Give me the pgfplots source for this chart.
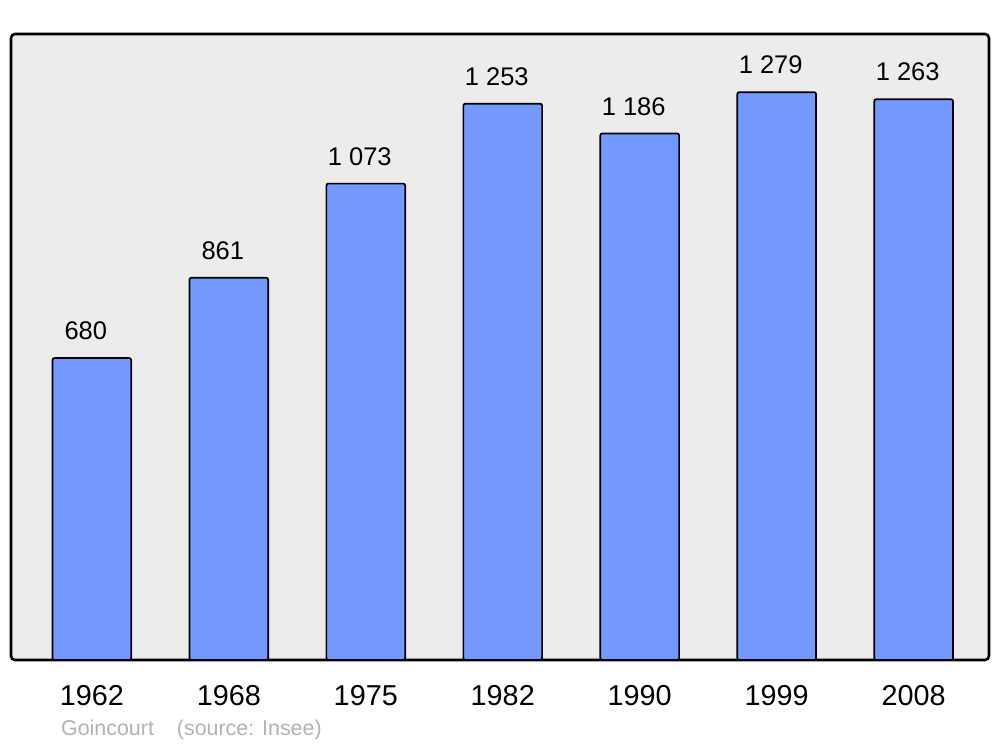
\documentclass[border=0pt]{standalone}
\usepackage{fontspec}
\setmainfont{Liberation Sans}
\usepackage{pgfplots}
\pgfplotsset{compat=1.18}

\definecolor{barblue}{HTML}{7399FF}
\definecolor{panel}{HTML}{ECECEC}
\definecolor{srcgray}{HTML}{B3B3B3}

\begin{document}
\begin{tikzpicture}[x=1pt,y=1pt]
  % page = 1000 x 747
  \path[fill=white] (0,0) rectangle (1000,747);
  \begin{axis}[
      at={(11pt,87pt)}, anchor=south west,
      scale only axis, width=978pt, height=626pt,
      xmin=-0.59, xmax=6.55, ymin=0, ymax=1410,
      axis background/.style={fill=panel},
      axis line style={line width=2.6pt, rounded corners=4pt},
      ytick=\empty,
      xtick=data,
      xticklabels={1962,1968,1975,1982,1990,1999,2008},
      xtick style={draw=none},
      xticklabel style={font=\fontsize{28.8}{32}\selectfont, yshift=-18pt},
      ybar, bar width=0.575, bar shift=0pt,
      /pgf/number format/assume math mode=true,
      /pgf/number format/1000 sep={\ },
      nodes near coords,
      every node near coord/.append style={font=\fontsize{25.5}{28}\selectfont,
        xshift=-6pt, yshift=14pt, black},
    ]
    \addplot[fill=barblue, draw=black, line width=1.7pt, rounded corners=2pt]
      coordinates {(0,680) (1,861) (2,1073) (3,1253) (4,1186) (5,1279) (6,1263)};
  \end{axis}
  \node[anchor=west, text=srcgray, font=\fontsize{21.4}{24}\selectfont, inner sep=0pt]
    at (61,17) {Goincourt\hspace{23pt}(source: Insee)};
\end{tikzpicture}
\end{document}
